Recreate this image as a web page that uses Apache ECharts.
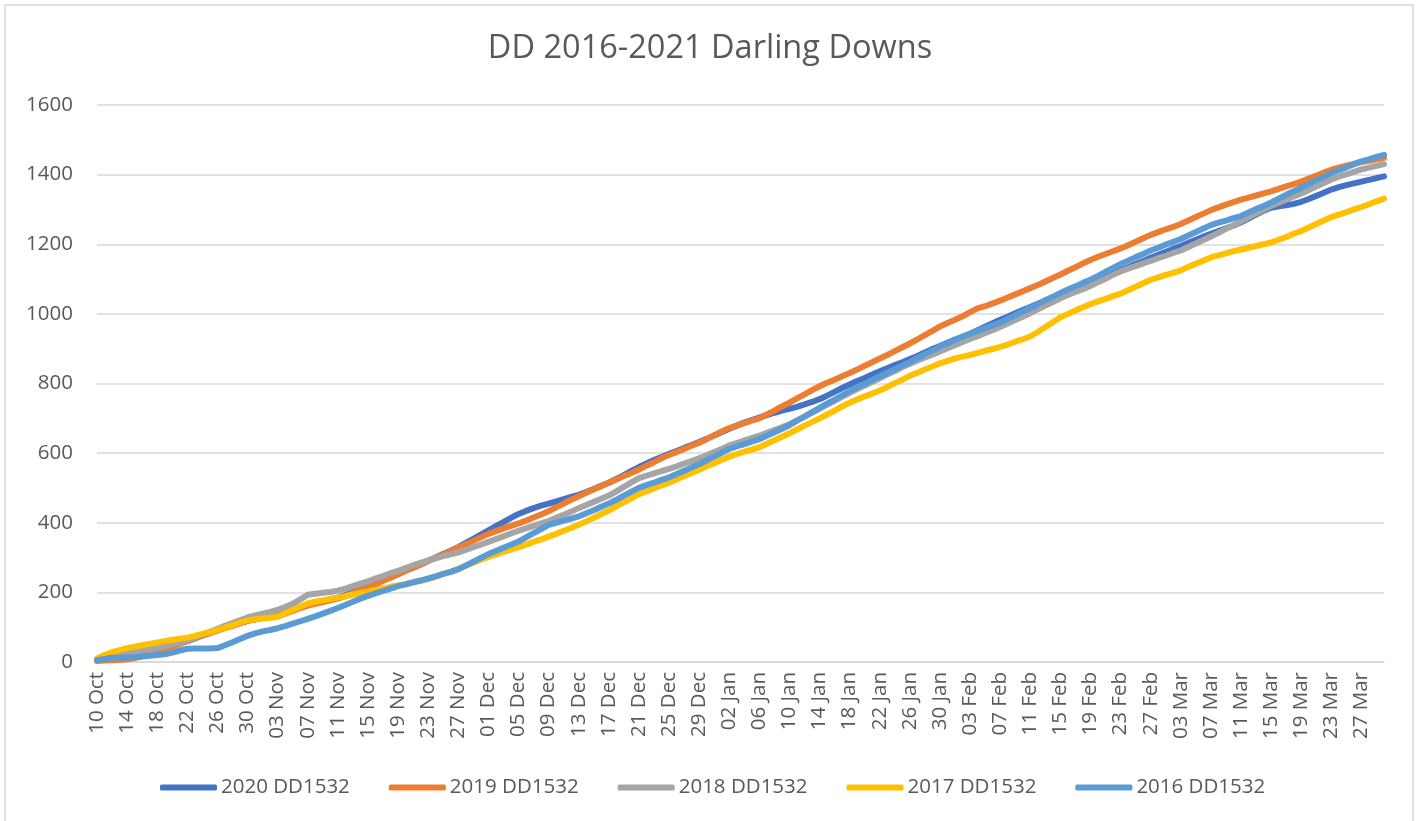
<!DOCTYPE html>
<html>
<head>
<meta charset="utf-8">
<title>DD 2016-2021 Darling Downs</title>
<script src="https://cdn.jsdelivr.net/npm/echarts@6/dist/echarts.min.js"></script>
<style>
  html, body { margin: 0; padding: 0; background: #fff; }
  #chart { width: 1420px; height: 821px; }
</style>
</head>
<body>
<div id="chart"></div>
<script>
// day spans shown on the x axis: [month, first day, last day]
const monthSpans = [['Oct', 10, 31], ['Nov', 1, 30], ['Dec', 1, 31], ['Jan', 1, 31], ['Feb', 1, 28], ['Mar', 1, 30]];
const categories = [];
monthSpans.forEach(([m, a, b]) => {
  for (let d = a; d <= b; d++) categories.push((d < 10 ? '0' + d : '' + d) + ' ' + m);
});

const seriesNames = ['2020 DD1532', '2019 DD1532', '2018 DD1532', '2017 DD1532', '2016 DD1532'];
const seriesColors = ['#4472C4', '#ED7D31', '#A5A5A5', '#FFC000', '#5B9BD5'];

// cumulative values, one per day (10 Oct .. 30 Mar)
const dd2020 = [
  5, 10, 15, 19, 22, 25, 29, 32, 35, 40, 47, 54, 60, 68, 76, 84, 92, 99, 106, 112,
  118, 123, 127, 131, 135, 142, 150, 158, 165, 170, 175, 180, 185, 192, 200, 207, 215, 224, 234, 243,
  252, 262, 271, 280, 290, 300, 310, 320, 330, 342, 354, 366, 378, 390, 402, 414, 425, 434, 442, 449,
  455, 461, 468, 474, 480, 488, 497, 506, 515, 526, 537, 549, 560, 570, 580, 589, 598, 606, 615, 623,
  632, 641, 651, 660, 670, 679, 688, 695, 702, 709, 716, 722, 727, 733, 740, 747, 755, 765, 776, 787,
  797, 807, 816, 826, 835, 844, 853, 861, 870, 879, 889, 899, 908, 917, 926, 934, 943, 953, 963, 973,
  983, 992, 1002, 1011, 1020, 1029, 1038, 1046, 1055, 1063, 1071, 1080, 1088, 1097, 1106, 1116, 1125, 1134, 1143, 1152,
  1161, 1170, 1178, 1187, 1195, 1204, 1213, 1222, 1230, 1238, 1246, 1254, 1263, 1274, 1285, 1296, 1305, 1309, 1312, 1316,
  1322, 1330, 1339, 1348, 1357, 1364, 1370, 1375, 1380, 1385, 1390, 1395
];
const dd2019 = [
  3, 4, 5, 6, 8, 11, 16, 22, 28, 36, 44, 52, 60, 68, 76, 83, 90, 97, 104, 111,
  118, 122, 126, 129, 132, 139, 147, 155, 162, 167, 172, 177, 182, 189, 198, 206, 214, 223, 233, 243,
  252, 262, 271, 280, 290, 300, 309, 318, 328, 338, 348, 358, 368, 376, 384, 391, 398, 406, 415, 424,
  433, 444, 455, 466, 476, 486, 496, 505, 515, 524, 534, 543, 553, 564, 574, 585, 595, 603, 612, 621,
  630, 640, 651, 662, 672, 679, 686, 693, 700, 711, 722, 734, 745, 757, 769, 781, 792, 802, 811, 821,
  830, 840, 851, 861, 872, 882, 893, 904, 915, 927, 939, 951, 964, 974, 983, 993, 1005, 1016, 1022, 1030,
  1038, 1047, 1056, 1065, 1074, 1083, 1093, 1103, 1113, 1124, 1134, 1145, 1155, 1164, 1172, 1180, 1188, 1197, 1207, 1217,
  1227, 1235, 1243, 1250, 1258, 1268, 1278, 1288, 1298, 1306, 1314, 1321, 1328, 1334, 1340, 1346, 1352, 1359, 1366, 1373,
  1380, 1389, 1397, 1406, 1414, 1420, 1426, 1431, 1436, 1440, 1444, 1448
];
const dd2018 = [
  5, 10, 15, 20, 25, 29, 33, 36, 40, 45, 51, 56, 62, 70, 79, 87, 95, 104, 112, 120,
  128, 134, 139, 144, 150, 158, 167, 180, 193, 196, 199, 201, 205, 211, 218, 225, 232, 240, 247, 255,
  262, 270, 278, 285, 292, 298, 304, 309, 315, 322, 330, 337, 345, 353, 361, 369, 377, 384, 391, 398,
  405, 414, 423, 432, 442, 451, 460, 469, 478, 490, 503, 516, 528, 535, 542, 548, 555, 562, 570, 577,
  585, 594, 603, 612, 622, 629, 636, 643, 650, 658, 666, 674, 683, 694, 705, 716, 727, 739, 750, 762,
  773, 784, 794, 805, 815, 826, 836, 847, 857, 866, 875, 883, 892, 901, 910, 919, 928, 936, 945, 953,
  962, 972, 982, 992, 1002, 1013, 1024, 1034, 1045, 1054, 1063, 1071, 1080, 1091, 1101, 1112, 1122, 1130, 1137, 1145,
  1152, 1160, 1167, 1175, 1182, 1192, 1202, 1212, 1222, 1233, 1244, 1255, 1266, 1277, 1288, 1299, 1310, 1319, 1328, 1337,
  1346, 1356, 1366, 1376, 1386, 1394, 1401, 1408, 1415, 1420, 1425, 1430
];
const dd2017 = [
  10, 20, 28, 34, 40, 44, 48, 52, 56, 60, 64, 67, 70, 75, 81, 86, 92, 99, 106, 113,
  120, 123, 125, 127, 130, 140, 150, 159, 168, 173, 177, 181, 185, 189, 194, 198, 202, 207, 211, 216,
  220, 224, 229, 233, 238, 245, 253, 260, 268, 277, 285, 294, 302, 309, 316, 323, 330, 337, 345, 352,
  360, 368, 377, 385, 394, 404, 414, 425, 435, 447, 459, 470, 482, 490, 499, 507, 515, 524, 534, 543,
  552, 562, 571, 581, 590, 597, 604, 610, 617, 627, 637, 647, 657, 668, 679, 689, 700, 711, 722, 734,
  745, 754, 763, 771, 780, 790, 801, 811, 822, 831, 840, 849, 858, 865, 872, 877, 882, 888, 894, 899,
  905, 912, 920, 927, 935, 948, 962, 976, 990, 1000, 1010, 1019, 1028, 1036, 1043, 1051, 1058, 1068, 1078, 1088,
  1098, 1105, 1112, 1118, 1125, 1135, 1144, 1153, 1162, 1168, 1174, 1180, 1185, 1190, 1195, 1200, 1205, 1213, 1221, 1230,
  1238, 1248, 1258, 1268, 1278, 1285, 1292, 1300, 1307, 1315, 1323, 1331
];
const dd2016 = [
  5, 9, 12, 12, 13, 14, 16, 18, 20, 22, 27, 33, 38, 39, 39, 39, 40, 48, 57, 66,
  75, 82, 88, 92, 97, 103, 110, 117, 124, 131, 139, 147, 155, 164, 173, 182, 190, 197, 204, 211,
  218, 223, 229, 234, 240, 246, 253, 259, 266, 277, 288, 299, 310, 319, 328, 337, 346, 358, 370, 382,
  394, 400, 406, 412, 418, 427, 436, 446, 455, 466, 478, 489, 500, 508, 515, 523, 530, 540, 549, 559,
  568, 579, 590, 601, 612, 619, 626, 633, 640, 650, 660, 670, 680, 693, 705, 718, 730, 742, 754, 766,
  778, 789, 799, 810, 820, 831, 841, 852, 862, 873, 884, 895, 906, 915, 925, 934, 943, 951, 959, 967,
  975, 986, 996, 1007, 1017, 1028, 1039, 1049, 1060, 1070, 1079, 1089, 1098, 1109, 1121, 1132, 1143, 1153, 1163, 1172,
  1182, 1190, 1199, 1207, 1215, 1225, 1235, 1245, 1255, 1262, 1268, 1275, 1281, 1291, 1301, 1310, 1320, 1331, 1342, 1352,
  1363, 1373, 1384, 1394, 1404, 1413, 1421, 1430, 1438, 1444, 1451, 1457
];
const seriesValues = [dd2020, dd2019, dd2018, dd2017, dd2016];

const yTicks = { min: 0, max: 1600, interval: 200 };

const FONT = '"Open Sans", "Liberation Sans", sans-serif';
const TEXT = '#595959';
const GRID_LINE = '#d9d9d9';

const chart = echarts.init(document.getElementById('chart'), null, { renderer: 'canvas' });

chart.setOption({
  backgroundColor: '#fff',
  animation: false,
  textStyle: { fontFamily: FONT },
  title: {
    text: 'DD 2016-2021 Darling Downs',
    left: 'center',
    top: 27,
    textStyle: { fontFamily: FONT, fontSize: 32.5, fontWeight: 'normal', color: TEXT }
  },
  graphic: [{
    type: 'rect',
    shape: { x: 5, y: 5, width: 1408, height: 830 },
    style: { fill: 'none', stroke: GRID_LINE, lineWidth: 1.5 },
    silent: true
  }],
  legend: {
    data: seriesNames,
    left: 155,
    top: 772,
    icon: 'roundRect',
    itemWidth: 57,
    itemHeight: 6,
    itemGap: 39,
    textStyle: { fontFamily: FONT, fontSize: 20.5, color: TEXT, padding: [0, 0, 0, -1] }
  },
  grid: { left: 97, right: 36, top: 105, bottom: 159, containLabel: false },
  xAxis: {
    type: 'category',
    data: categories,
    boundaryGap: false,
    axisLine: { lineStyle: { color: GRID_LINE, width: 1.5 } },
    axisTick: { show: false },
    axisLabel: {
      interval: 3,
      rotate: 90,
      margin: 10,
      padding: [18, 0, 0, 0],
      fontFamily: FONT,
      fontSize: 20.5,
      color: TEXT
    },
    splitLine: { show: false }
  },
  yAxis: {
    type: 'value',
    min: yTicks.min,
    max: yTicks.max,
    interval: yTicks.interval,
    axisLine: { show: false },
    axisTick: { show: false },
    axisLabel: {
      margin: 24,
      fontFamily: FONT,
      fontSize: 20.5,
      color: TEXT,
      formatter: (v) => String(v)
    },
    splitLine: { lineStyle: { color: GRID_LINE, width: 1.5 } }
  },
  series: seriesNames.map((name, i) => ({
    name: name,
    type: 'line',
    data: seriesValues[i],
    showSymbol: false,
    symbol: 'none',
    z: 2 + i,
    itemStyle: { color: seriesColors[i] },
    lineStyle: { color: seriesColors[i], width: 6, cap: 'round', join: 'round' }
  }))
});
</script>
</body>
</html>
